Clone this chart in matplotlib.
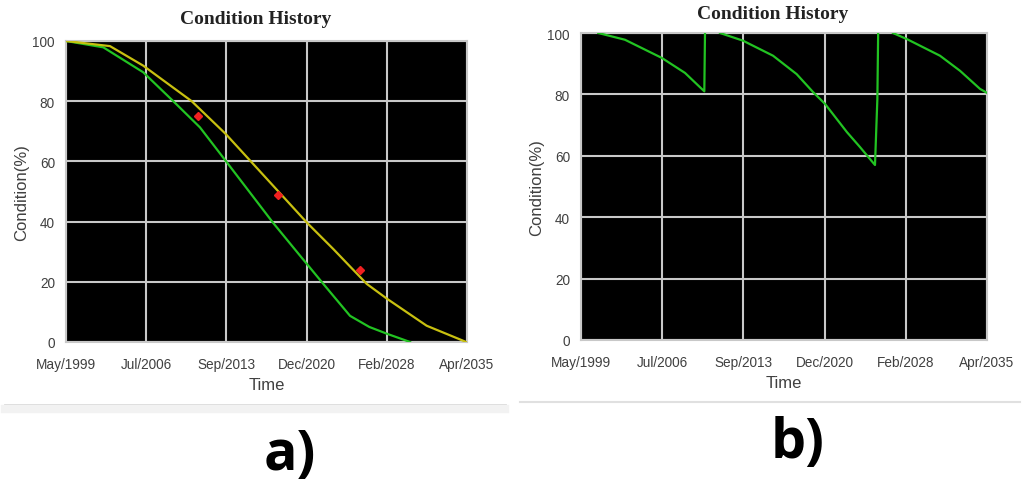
import numpy as np
import matplotlib
matplotlib.use("Agg")
import matplotlib.pyplot as plt
from matplotlib.lines import Line2D

# ---------------- data ----------------
tick_years = [1999.33, 2006.5, 2013.67, 2020.92, 2028.08, 2035.25]
tick_labels = ["May/1999", "Jul/2006", "Sep/2013", "Dec/2020", "Feb/2028", "Apr/2035"]
y_ticks = [0, 20, 40, 60, 80, 100]

# panel a
a_green_t = [1999.33, 2002.67, 2006.25, 2008.94, 2011.33, 2013.57, 2017.90,
             2020.29, 2022.38, 2024.77, 2026.5, 2028.11, 2030.15]
a_green_v = [100, 97.9, 89.6, 80, 71.3, 60.5, 39.5,
             28.7, 19.3, 8.7, 5.0, 2.7, 0]
a_yellow_t = [1999.33, 2003.27, 2006.25, 2010.59, 2013.64, 2016.11, 2020.95,
              2023.27, 2026.27, 2028.11, 2031.64, 2034.92, 2035.16]
a_yellow_v = [100, 98.3, 91.8, 80, 69.1, 59.1, 39.5,
              30.9, 19.3, 14.3, 5.4, 0.4, 0]
a_obs_t = [2011.15, 2018.32, 2025.66]
a_obs_v = [75, 49, 24]

# panel b (NaN separates the maintenance cycles)
b_t = [2000.86, 2003.22, 2006.47, 2008.53, 2010.24, 2010.30, np.nan,
       2011.63, 2013.66, 2016.32, 2018.41, 2019.85, 2020.92, 2022.86, 2024.0, 2025.34,
       2025.55, 2025.62, np.nan,
       2026.93, 2028.17, 2031.09, 2032.86, 2034.63, 2035.25]
b_v = [100, 97.8, 91.9, 87.0, 81.0, 100, np.nan,
       100, 97.5, 92.6, 86.6, 80.8, 76.9, 67.7, 62.9, 57.0,
       78.5, 100, np.nan,
       100, 98, 92.6, 87.7, 81.8, 80.5]

W, H = 1022, 485
fig = plt.figure(figsize=(W / 100, H / 100), dpi=100)
fig.patch.set_facecolor("white")

GREEN = "#22c322"
YELLOW = "#c8c010"
RED = "#f02020"
GRID = "#c8c8c8"
TXT = "#404040"

def style(ax, title_pad, title_x):
    ax.set_facecolor("black")
    ax.set_xlim(tick_years[0], tick_years[-1])
    ax.set_ylim(0, 100)
    ax.set_xticks(tick_years)
    ax.set_xticklabels(tick_labels, fontsize=9.8, color=TXT, family="Liberation Sans")
    ax.set_yticks(y_ticks)
    ax.set_yticklabels([str(v) for v in y_ticks], fontsize=9.8, color=TXT, family="Liberation Sans")
    ax.tick_params(length=0, pad=8)
    ax.tick_params(axis="x", pad=11)
    ax.grid(True, color=GRID, linewidth=1.5)
    ax.set_axisbelow(True)
    for s in ax.spines.values():
        s.set_color(GRID)
        s.set_linewidth(1.5)
    ax.set_xlabel("Time", fontsize=12, color=TXT, family="Liberation Sans", labelpad=4)
    ax.set_ylabel("Condition(%)", fontsize=12, color=TXT, family="Liberation Sans", labelpad=2)
    ax.set_title("Condition History", fontsize=14, fontweight="bold", family="Liberation Serif",
                 color="#222222", pad=title_pad, x=title_x)

ax1 = fig.add_axes([66 / W, 1 - 343 / H, 401 / W, 301 / H])
style(ax1, 13, 0.474)
ax1.plot(a_green_t, a_green_v, color=GREEN, lw=1.6, zorder=3)
ax1.plot(a_yellow_t, a_yellow_v, color=YELLOW, lw=1.6, zorder=3)
ax1.plot(a_obs_t, a_obs_v, linestyle="none", marker="D", markersize=4.5, color=RED, zorder=4)

ax2 = fig.add_axes([581 / W, 1 - 341 / H, 406 / W, 307 / H])
style(ax2, 11, 0.473)
ax2.plot(b_t, b_v, color=GREEN, lw=1.6, zorder=3)

# separator lines
fig.add_artist(Line2D([5 / W, 505 / W], [1 - 406 / H, 1 - 406 / H], color="#d8d8d8", lw=2))
fig.add_artist(Line2D([5 / W, 505 / W], [1 - 410 / H, 1 - 410 / H], color="#f2f2f2", lw=6))
fig.add_artist(Line2D([520 / W, 1020 / W], [1 - 403 / H, 1 - 403 / H], color="#e0e0e0", lw=1.5))

fig.text(290 / W, 1 - 470 / H, "a)", fontsize=40, fontweight="bold", family="Open Sans",
         ha="center", va="baseline", color="black")
fig.text(798 / W, 1 - 458 / H, "b)", fontsize=40, fontweight="bold", family="Open Sans",
         ha="center", va="baseline", color="black")

fig.savefig("out.png", dpi=100, facecolor="white")
